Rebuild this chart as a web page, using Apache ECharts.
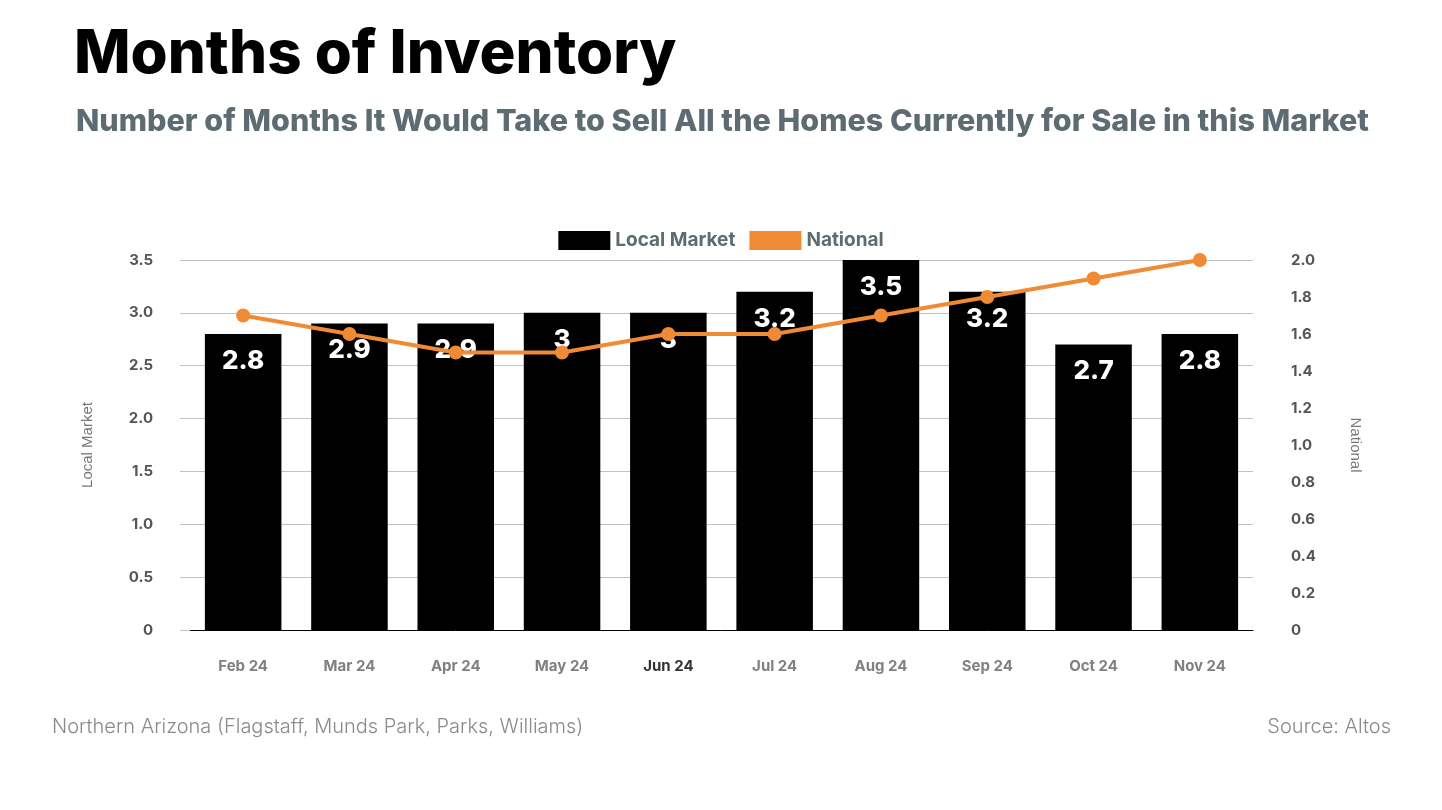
<!DOCTYPE html>
<html><head><meta charset="utf-8">
<script src="https://cdn.jsdelivr.net/npm/echarts@6/dist/echarts.min.js"></script>
<style>html,body{margin:0;padding:0;background:#fff}#c{width:1442px;height:810px}</style>
</head><body><div id="c"></div>
<script>
const categories = ['Feb 24','Mar 24','Apr 24','May 24','Jun 24','Jul 24','Aug 24','Sep 24','Oct 24','Nov 24'];
const localMarket = [2.8,2.9,2.9,3,3,3.2,3.5,3.2,2.7,2.8];
const national = [1.7,1.6,1.5,1.5,1.6,1.6,1.7,1.8,1.9,2.0];
const FONT = 'Inter';
const chart = echarts.init(document.getElementById('c'));
chart.setOption({
  backgroundColor:'#fff',
  animation:false,
  textStyle:{fontFamily:FONT},
  title:[
    {text:'Months of Inventory',left:69,top:20,textStyle:{fontFamily:FONT,fontWeight:800,fontSize:60,color:'#000'}},
    {text:'Number of Months It Would Take to Sell All the Homes Currently for Sale in this Market',left:71,top:101,textStyle:{fontFamily:FONT,fontWeight:800,fontSize:30.5,color:'#5d6b72'}},
    {text:'Northern Arizona (Flagstaff, Munds Park, Parks, Williams)',left:47,top:712,textStyle:{fontFamily:FONT,fontWeight:300,fontSize:20,color:'#8a8a8a'}},
    {text:'Source: Altos',right:46,top:712,textStyle:{fontFamily:FONT,fontWeight:300,fontSize:20,color:'#8a8a8a'}}
  ],
  legend:{
    top:226,left:'center',itemWidth:52,itemHeight:19,itemGap:14,
    icon:'rect',
    textStyle:{fontFamily:FONT,fontWeight:700,fontSize:19,color:'#5d6b72'},
    data:['Local Market','National']
  },
  grid:{left:190,right:189,top:260,bottom:180},
  xAxis:{
    type:'category',data:categories,
    axisLine:{lineStyle:{color:'#000',width:1}},
    axisTick:{show:false},
    axisLabel:{margin:29,fontSize:15,fontWeight:700,fontFamily:FONT,
      color:function(v){return v==='Jun 24'?'#333':'#808080';}}
  },
  yAxis:[
    {type:'value',min:0,max:3.5,interval:0.5,name:'Local Market',nameLocation:'middle',nameGap:95,nameRotate:90,
     nameTextStyle:{fontFamily:'Liberation Sans',fontSize:15,color:'#777'},
     axisLabel:{fontSize:15,fontWeight:700,color:'#555',margin:37,formatter:v=>v===0?'0':v.toFixed(1)},
     splitLine:{lineStyle:{color:'#c2c2c2',width:1}},axisLine:{show:false},
     axisTick:{show:true,length:10,lineStyle:{color:'#c2c2c2'}}},
    {type:'value',min:0,max:2.0,interval:0.2,name:'National',nameLocation:'middle',nameGap:95,nameRotate:-90,
     nameTextStyle:{fontFamily:'Liberation Sans',fontSize:15,color:'#777'},
     axisLabel:{fontSize:15,fontWeight:700,color:'#555',margin:38,formatter:v=>v===0?'0':v.toFixed(1)},
     splitLine:{show:false},axisLine:{show:false},axisTick:{show:false}}
  ],
  series:[
    {name:'Local Market',type:'bar',data:localMarket,yAxisIndex:0,barWidth:'72%',
     itemStyle:{color:'#000'},
     label:{show:true,position:'insideTop',distance:14,color:'#fff',fontSize:26,fontWeight:800,fontFamily:FONT}},
    {name:'National',type:'line',data:national,yAxisIndex:1,
     itemStyle:{color:'#f08a34'},lineStyle:{color:'#f08a34',width:4},
     symbol:'circle',symbolSize:14}
  ]
});
</script></body></html>
